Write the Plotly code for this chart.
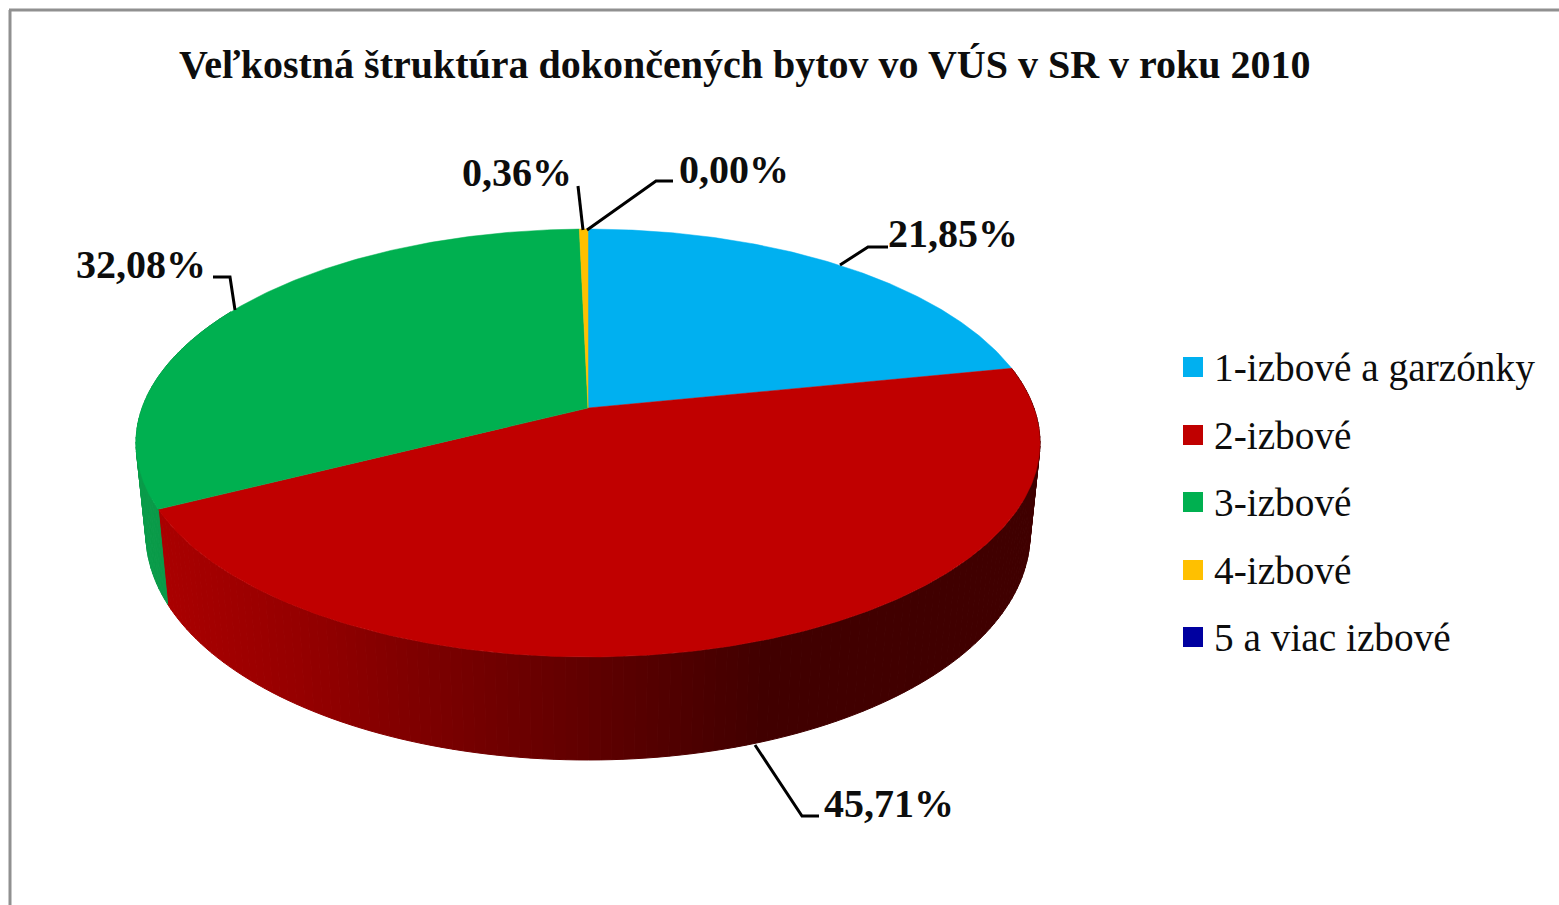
import numpy as np
import plotly.graph_objects as go

TITLE = "Veľkostná štruktúra dokončených bytov vo VÚS v SR v roku 2010"
categories = ["1-izbové a garzónky", "2-izbové", "3-izbové", "4-izbové", "5 a viac izbové"]
values = [21.85, 45.71, 32.08, 0.36, 0.00]
colors = ["#00B0F0", "#C00000", "#00B050", "#FFC000", "#0000A0"]

# perspective projection of the disc onto the page (page pixels)
CX, APEX_Y, A, C, K = 588.0, 408.0, 141.5, 0.1636, 445.9
DEPTH0, DEPTH1, BOTTOM_SCALE = 88.5, -14.5, 0.978

def top(theta):
    u, v = np.sin(theta), np.cos(theta)
    w = 1 + C * v
    return CX + K * u / w, (APEX_Y - A * v) / w

def bottom(theta):
    x, y = top(theta)
    return CX + (x - CX) * BOTTOM_SCALE, y + DEPTH0 + DEPTH1 * np.cos(theta)

def side_color(name, x):
    stops_x = [150, 300, 420, 600, 760, 1050]
    shades = {
        "2-izbové": ([172, 150, 126, 94, 66, 64], [0] * 6, [0] * 6),
        "3-izbové": ([10] * 6, [156, 130, 110, 80, 60, 60], [74, 62, 52, 38, 28, 28]),
    }
    r, g, b = shades[name]
    return "rgb(%d,%d,%d)" % (np.interp(x, stops_x, r), np.interp(x, stops_x, g), np.interp(x, stops_x, b))

fig = go.Figure()
edges = np.concatenate([[0], np.cumsum(values)]) / sum(values) * 2 * np.pi

# side wall, as narrow strips shaded by their position
for i, name in enumerate(categories):
    if name not in ("2-izbové", "3-izbové"):
        continue
    end = min(edges[i + 1], np.radians(300))
    ts = np.linspace(edges[i], end, int((end - edges[i]) * 45) + 2)
    for t0, t1 in zip(ts[:-1], ts[1:]):
        xa, ya = top(np.array([t0, t1]))
        xb, yb = bottom(np.array([t1, t0]))
        col = side_color(name, (xa.mean() + xb.mean()) / 2)
        fig.add_trace(go.Scatter(
            x=np.r_[xa, xb, xa[0]], y=np.r_[ya, yb, ya[0]], mode="lines", fill="toself",
            fillcolor=col, line=dict(color=col, width=1), hoverinfo="skip", showlegend=False))

# top face
for i, name in enumerate(categories):
    if values[i] == 0:
        continue
    ts = np.linspace(edges[i], edges[i + 1], max(int(values[i] * 6), 3))
    x, y = top(ts)
    fig.add_trace(go.Scatter(
        x=np.r_[CX, x, CX], y=np.r_[APEX_Y, y, APEX_Y], mode="lines", fill="toself",
        fillcolor=colors[i], line=dict(color=colors[i], width=0.5), name=name,
        hovertext=f"{name}: {values[i]:.2f}%", hoverinfo="text", showlegend=False))

# leader lines
leaders = [
    [(888, 247), (868, 247), (840, 265)],
    [(819, 816), (802, 816), (755, 745)],
    [(213, 277), (230, 277), (235, 310)],
    [(578, 186), (583, 230)],
    [(673, 181), (656, 181), (587, 230)],
]
for pts in leaders:
    fig.add_trace(go.Scatter(x=[p[0] for p in pts], y=[p[1] for p in pts], mode="lines",
                             line=dict(color="#000000", width=3), hoverinfo="skip", showlegend=False))

# legend
legend_y = [367, 435, 502, 570, 637]
fig.add_trace(go.Scatter(x=[1193] * 5, y=legend_y, mode="markers", hoverinfo="skip", showlegend=False,
                         marker=dict(symbol="square", size=20, color=colors, line=dict(width=0))))

SERIF = "Liberation Serif"
ann = [dict(x=177, y=64, text=f"<b>{TITLE}</b>", size=40)]
label_pos = [(886, 233), (822, 803), (74, 264), (460, 172), (677, 169)]
for v, (lx, ly) in zip(values, label_pos):
    ann.append(dict(x=lx, y=ly, text="<b>" + f"{v:.2f}%".replace(".", ",") + "</b>", size=40))
for name, ly in zip(categories, legend_y):
    ann.append(dict(x=1212, y=ly + 1, text=name, size=39.3))

fig.update_layout(
    width=1559, height=905, margin=dict(l=0, r=0, t=0, b=0),
    paper_bgcolor="white", plot_bgcolor="white", showlegend=False,
    xaxis=dict(range=[0, 1559], visible=False, fixedrange=True),
    yaxis=dict(range=[905, 0], visible=False, fixedrange=True),
    annotations=[dict(x=a["x"], y=a["y"], xref="x", yref="y", text=a["text"], showarrow=False,
                      xanchor="left", yanchor="middle",
                      font=dict(family=SERIF, size=a["size"], color="#0d0d0d")) for a in ann],
    shapes=[dict(type="line", xref="x", yref="y", x0=10, x1=10, y0=10, y1=905, line=dict(color="#909090", width=3)),
            dict(type="line", xref="x", yref="y", x0=9, x1=1559, y0=10, y1=10, line=dict(color="#909090", width=3))],
)

fig.write_html("out.html", config=dict(displayModeBar=False),
               post_script="document.body.style.margin='0';document.body.style.overflow='hidden';")
